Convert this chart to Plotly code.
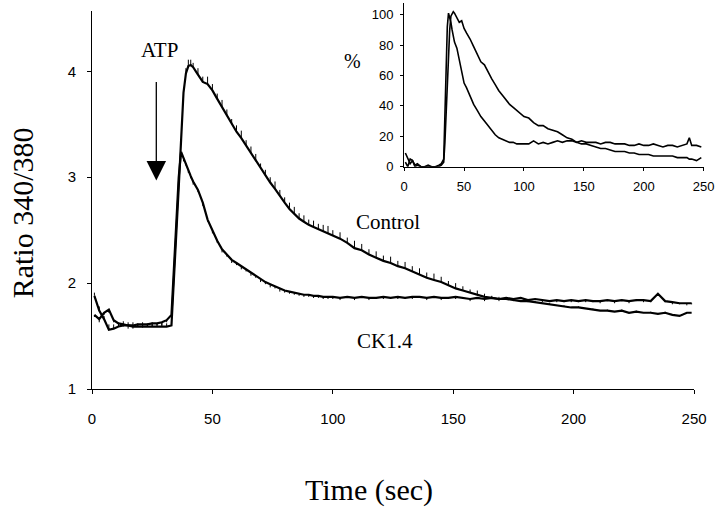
import plotly.graph_objects as go

# ---------------- data ----------------
time_main = [1, 3, 5, 7, 9, 11, 13, 15, 17, 19, 21, 23, 25, 27, 29, 31, 33,
             34, 35, 36, 37, 38, 39, 40, 41, 42,
             44, 46, 48, 50, 52, 54, 56, 58, 60, 62, 64, 66, 68, 70, 72, 74, 76, 78,
             80, 82, 84, 86, 88, 90, 92, 94, 96, 98, 100,
             103, 106, 109, 112, 115, 118, 121, 124, 127, 130, 133, 136, 139, 142,
             145, 148, 151, 154, 157, 160, 163, 166, 169, 172, 175, 178, 181, 184,
             187, 190, 193, 196, 199, 202, 205, 208, 211, 214, 217, 220, 223, 226,
             229, 232, 235, 238, 241, 244, 247, 249]

control_ratio = [1.88, 1.74, 1.66, 1.56, 1.57, 1.59, 1.60, 1.60, 1.59, 1.59, 1.59, 1.59,
                 1.59, 1.59, 1.59, 1.59, 1.60,
                 2.00, 2.45, 2.90, 3.35, 3.80, 3.98, 4.05, 4.06, 4.04,
                 3.97, 3.90, 3.88, 3.82, 3.74, 3.66, 3.58, 3.50, 3.43, 3.37, 3.30, 3.23,
                 3.15, 3.08, 3.01, 2.95, 2.89, 2.82, 2.76, 2.70, 2.65, 2.61, 2.58, 2.55,
                 2.53, 2.51, 2.49, 2.47, 2.45,
                 2.42, 2.38, 2.33, 2.31, 2.27, 2.24, 2.21, 2.19, 2.16, 2.14, 2.11, 2.08,
                 2.05, 2.03, 2.01, 1.98, 1.95, 1.93, 1.91, 1.89, 1.87, 1.86, 1.85, 1.85,
                 1.84, 1.83, 1.83, 1.82, 1.81, 1.80, 1.79, 1.78, 1.77, 1.77, 1.76, 1.75,
                 1.74, 1.74, 1.73, 1.74, 1.72, 1.73, 1.72, 1.72, 1.71, 1.72, 1.70, 1.69,
                 1.72, 1.72]

ck14_ratio = [1.70, 1.66, 1.72, 1.75, 1.65, 1.62, 1.61, 1.60, 1.60, 1.61, 1.61, 1.61,
              1.62, 1.62, 1.63, 1.65, 1.70,
              2.10, 2.55, 3.00, 3.24, 3.18, 3.13, 3.07, 3.01, 2.96,
              2.88, 2.76, 2.60, 2.50, 2.40, 2.32, 2.27, 2.22, 2.19, 2.16, 2.13, 2.10,
              2.07, 2.04, 2.01, 1.99, 1.97, 1.95, 1.93, 1.92, 1.91, 1.90, 1.89, 1.89,
              1.88, 1.88, 1.87, 1.87, 1.87,
              1.86, 1.87, 1.86, 1.87, 1.86, 1.86, 1.87, 1.86, 1.87, 1.86, 1.87, 1.87,
              1.86, 1.87, 1.86, 1.86, 1.87, 1.86, 1.85, 1.86, 1.85, 1.86, 1.85, 1.86,
              1.85, 1.86, 1.84, 1.85, 1.84, 1.83, 1.84, 1.83, 1.84, 1.83, 1.84, 1.83,
              1.83, 1.84, 1.83, 1.84, 1.83, 1.84, 1.84, 1.83, 1.90, 1.83, 1.82, 1.81,
              1.81, 1.81]

# one-sided error ticks (upward for Control, downward for CK1.4)
control_err_up = [0.03, 0.04, 0.03, 0.05, 0.04, 0.03, 0.04, 0.03, 0.04, 0.03, 0.04, 0.03,
                  0.04, 0.03, 0.04, 0.03, 0.03,
                  0.00, 0.00, 0.00, 0.00, 0.03, 0.05, 0.06, 0.05, 0.04,
                  0.06, 0.05, 0.07, 0.06, 0.05, 0.07, 0.06, 0.05, 0.06, 0.07, 0.05, 0.06,
                  0.07, 0.05, 0.06, 0.05, 0.07, 0.06, 0.05, 0.06, 0.07, 0.05, 0.06, 0.05,
                  0.06, 0.05, 0.06, 0.07, 0.05,
                  0.06, 0.05, 0.07, 0.06, 0.05, 0.06, 0.05, 0.06, 0.05, 0.06, 0.05, 0.06,
                  0.05, 0.06, 0.05, 0.04, 0.05, 0.04, 0.03, 0.04, 0.03, 0.02, 0.02, 0.01,
                  0.01, 0.01, 0.00, 0.01, 0.00, 0.01, 0.00, 0.01, 0.00, 0.01, 0.00, 0.01,
                  0.00, 0.01, 0.00, 0.01, 0.00, 0.01, 0.00, 0.01, 0.00, 0.01, 0.00, 0.01,
                  0.00, 0.00]
ck14_err_down = [0.02, 0.03, 0.02, 0.03, 0.02, 0.03, 0.02, 0.03, 0.03, 0.02, 0.03, 0.02,
                 0.03, 0.02, 0.03, 0.02, 0.02,
                 0.00, 0.00, 0.00, 0.00, 0.03, 0.02, 0.03, 0.02, 0.03,
                 0.02, 0.03, 0.02, 0.03, 0.02, 0.03, 0.02, 0.03, 0.02, 0.03, 0.02, 0.03,
                 0.02, 0.03, 0.02, 0.03, 0.02, 0.03, 0.02, 0.02, 0.02, 0.02, 0.02, 0.02,
                 0.02, 0.02, 0.02, 0.02, 0.02,
                 0.02, 0.01, 0.02, 0.01, 0.02, 0.01, 0.02, 0.01, 0.02, 0.01, 0.02, 0.01,
                 0.02, 0.01, 0.02, 0.01, 0.02, 0.01, 0.02, 0.01, 0.02, 0.01, 0.02, 0.01,
                 0.02, 0.01, 0.02, 0.01, 0.02, 0.01, 0.02, 0.01, 0.02, 0.01, 0.02, 0.01,
                 0.02, 0.01, 0.02, 0.01, 0.02, 0.01, 0.02, 0.01, 0.02, 0.01, 0.02, 0.01,
                 0.02, 0.01]

time_inset = [1, 3, 5, 7, 9, 11, 14, 17, 20, 23, 26, 29, 31, 33,
              34, 35, 36, 37, 38, 39, 40, 41, 42, 44, 46, 48, 50, 52,
              55, 58, 61, 64, 67, 70, 73, 76, 79, 82, 85, 88, 91, 94, 97, 100,
              104, 108, 112, 116, 120, 124, 128, 132, 136, 140, 144, 148, 152, 156,
              160, 164, 168, 172, 176, 180, 184, 188, 192, 196, 200, 204, 208, 212,
              216, 220, 224, 228, 232, 236, 238, 240, 244, 248]

control_pct = [9, 6, 2, 4, 1, 2, 0, 0, 1, 0, 0, 0, 1, 3,
               16, 35, 54, 72, 90, 99, 101, 102, 101, 98, 95, 96, 91, 88,
               84, 79, 74, 69, 67, 62, 58, 54, 50, 47, 44, 41, 39, 37, 35, 33,
               32, 29, 27, 27, 25, 24, 23, 21, 19, 18, 16, 15, 15, 14,
               13, 12, 12, 11, 10, 10, 10, 9, 9, 8, 8, 8, 7, 7,
               7, 7, 7, 6, 6, 6, 5, 5, 4, 6]

ck14_pct = [3, 0, 5, 4, 0, 1, 0, 0, 0, 0, 0, 1, 2, 5,
            30, 62, 92, 101, 98, 95, 90, 86, 82, 78, 70, 62, 55, 52,
            46, 41, 37, 33, 30, 27, 24, 21, 19, 18, 17, 16, 16, 15, 15, 15,
            15, 17, 15, 16, 15, 16, 17, 16, 17, 17, 16, 17, 16, 16,
            16, 15, 16, 16, 15, 15, 15, 14, 14, 15, 14, 14, 15, 14,
            13, 14, 14, 13, 14, 15, 19, 14, 14, 13]

main_x_ticks = [0, 50, 100, 150, 200, 250]
main_y_ticks = [1, 2, 3, 4]
inset_x_ticks = [0, 50, 100, 150, 200, 250]
inset_y_ticks = [0, 20, 40, 60, 80, 100]

# ---------------- figure ----------------
W, H = 720, 512
ML, MR, MT, MB = 92, 13, 3, 123
PW = W - ML - MR   # 615
PH = H - MT - MB   # 386

def px_x(p):
    return (p - ML) / PW

def px_y(p):
    return (H - MB - p) / PH

fig = go.Figure()

fig.add_trace(go.Scatter(
    x=time_main, y=control_ratio, mode="lines",
    line=dict(color="black", width=2.2),
    error_y=dict(type="data", array=control_err_up, arrayminus=[0] * len(time_main),
                 symmetric=False, color="black", thickness=1, width=0),
    xaxis="x", yaxis="y", showlegend=False, name="Control"))

fig.add_trace(go.Scatter(
    x=time_main, y=ck14_ratio, mode="lines",
    line=dict(color="black", width=2.2),
    error_y=dict(type="data", array=[0] * len(time_main), arrayminus=ck14_err_down,
                 symmetric=False, color="black", thickness=1, width=0),
    xaxis="x", yaxis="y", showlegend=False, name="CK1.4"))

fig.add_trace(go.Scatter(
    x=time_inset, y=control_pct, mode="lines",
    line=dict(color="black", width=1.6),
    xaxis="x2", yaxis="y2", showlegend=False, name="Control %"))

fig.add_trace(go.Scatter(
    x=time_inset, y=ck14_pct, mode="lines",
    line=dict(color="black", width=1.6),
    xaxis="x2", yaxis="y2", showlegend=False, name="CK1.4 %"))

tickfont_main = dict(family="Liberation Sans, Arial, sans-serif", size=15, color="black")
tickfont_inset = dict(family="Liberation Sans, Arial, sans-serif", size=13, color="black")
serif = "Liberation Serif, Times New Roman, serif"

fig.update_layout(
    width=W, height=H,
    margin=dict(l=ML, r=MR, t=MT, b=MB),
    paper_bgcolor="white", plot_bgcolor="white",
    xaxis=dict(domain=[0, px_x(697)], range=[0, 250], tickvals=main_x_ticks,
               showgrid=False, zeroline=False, showline=True, linecolor="black",
               linewidth=1, ticks="outside", ticklen=4, tickcolor="black",
               tickfont=tickfont_main, ticklabelstandoff=12, anchor="y"),
    yaxis=dict(domain=[0, px_y(11)], range=[1, 4.57], tickvals=main_y_ticks,
               showgrid=False, zeroline=False, showline=True, linecolor="black",
               linewidth=1, ticks="outside", ticklen=4, tickcolor="black",
               tickfont=tickfont_main, ticklabelstandoff=8, anchor="x"),
    xaxis2=dict(domain=[px_x(405.7), px_x(706.7)], range=[0, 250], tickvals=inset_x_ticks,
                showgrid=False, zeroline=False, showline=True, linecolor="black",
                linewidth=1, ticks="outside", ticklen=3, tickcolor="black",
                tickfont=tickfont_inset, ticklabelstandoff=5, anchor="y2"),
    yaxis2=dict(domain=[px_y(166.7), 1], range=[0, 107.7], tickvals=inset_y_ticks,
                showgrid=False, zeroline=False, showline=True, linecolor="black",
                linewidth=1, ticks="outside", ticklen=3, tickcolor="black",
                tickfont=tickfont_inset, ticklabelstandoff=4, anchor="x2"),
    annotations=[
        dict(text="Ratio 340/380", xref="paper", yref="paper", x=px_x(23), y=px_y(213),
             textangle=-90, showarrow=False, font=dict(family=serif, size=30, color="black"),
             xanchor="center", yanchor="middle"),
        dict(text="Time (sec)", xref="paper", yref="paper", x=px_x(370), y=px_y(490),
             showarrow=False, font=dict(family=serif, size=30, color="black"),
             xanchor="center", yanchor="middle"),
        dict(text="ATP", xref="x", yref="y", x=28.1, y=4.20, showarrow=False,
             font=dict(family=serif, size=21, color="black")),
        dict(text="", xref="x", yref="y", x=26.7, y=2.97, ax=0, ay=-100,
             showarrow=True, arrowhead=2, arrowsize=3, arrowwidth=1.3, arrowcolor="black"),
        dict(text="Control", xref="x", yref="y", x=123.1, y=2.58, showarrow=False,
             font=dict(family=serif, size=21, color="black")),
        dict(text="CK1.4", xref="x", yref="y", x=121.5, y=1.45, showarrow=False,
             font=dict(family=serif, size=21, color="black")),
        dict(text="%", xref="paper", yref="paper", x=px_x(354), y=px_y(61), showarrow=False,
             font=dict(family=serif, size=20, color="black"),
             xanchor="center", yanchor="middle"),
    ],
)

fig.write_html("out.html", config={"displayModeBar": False},
               post_script="document.body.style.margin='0px';")
